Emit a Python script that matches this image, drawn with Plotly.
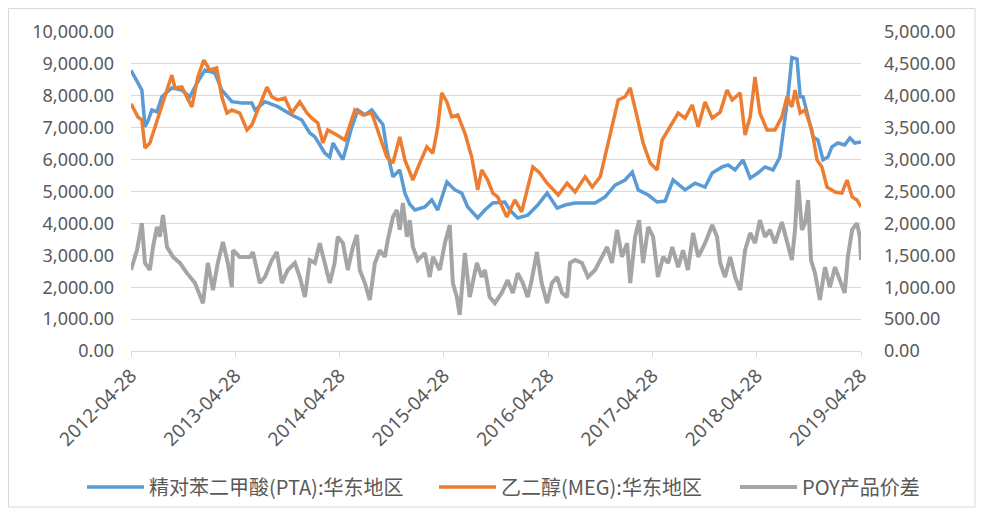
import plotly.graph_objects as go

# ---------------- data ----------------
pta_dates = ["2012-04-28","2012-05-15","2012-06-05","2012-06-16","2012-06-26","2012-07-10","2012-07-28","2012-08-14",
             "2012-09-18","2012-10-23","2012-11-20","2012-12-15","2013-01-12","2013-02-16","2013-03-12","2013-04-16",
             "2013-05-21","2013-06-25","2013-07-06","2013-08-10","2013-09-24","2013-11-12","2013-12-17","2014-01-14",
             "2014-02-01","2014-03-08","2014-03-25","2014-04-05","2014-05-10","2014-06-10","2014-07-01","2014-07-26",
             "2014-08-19","2014-09-09","2014-09-27","2014-10-11","2014-11-01","2014-11-25","2014-12-13","2014-12-30",
             "2015-01-17","2015-02-21","2015-03-17","2015-04-07","2015-05-09","2015-06-06","2015-06-30","2015-07-21",
             "2015-08-25","2015-09-19","2015-10-17","2015-11-28","2015-12-15","2016-01-12","2016-02-16","2016-03-22",
             "2016-04-24","2016-05-29","2016-06-26","2016-07-31","2016-09-04","2016-10-09","2016-11-13","2016-12-18",
             "2017-01-22","2017-02-16","2017-03-09","2017-04-13","2017-05-14","2017-06-11","2017-07-09","2017-08-20",
             "2017-09-24","2017-10-29","2017-11-23","2017-12-28","2018-01-18","2018-02-11","2018-03-11","2018-04-05",
             "2018-05-02","2018-05-27","2018-06-24","2018-07-18","2018-07-29","2018-08-15","2018-08-29","2018-09-16",
             "2018-09-27","2018-10-07","2018-10-25","2018-11-11","2018-11-28","2018-12-16","2019-01-02","2019-01-16",
             "2019-02-06","2019-03-02","2019-03-20","2019-04-06","2019-04-28"]
pta_vals = [8800,8500,8180,7030,7200,7555,7500,7970,
            8245,8180,7970,8400,8810,8715,8180,7815,
            7775,7775,7555,7815,7660,7400,7240,6835,
            6710,6200,6080,6520,6000,7020,7555,7400,
            7555,7300,7100,6300,5460,5675,4950,4600,
            4420,4515,4735,4420,5300,5050,4950,4515,
            4170,4420,4640,4670,4420,4170,4260,4575,
            4950,4480,4575,4640,4640,4640,4830,5200,
            5360,5610,5050,4890,4670,4700,5360,5050,
            5260,5140,5580,5770,5830,5675,5990,5420,
            5580,5770,5675,6080,6830,7970,9200,9150,
            7970,7970,7340,6710,6615,5990,6080,6400,
            6520,6460,6680,6520,6550]

meg_dates = ["2012-04-28","2012-05-22","2012-06-05","2012-06-16","2012-07-03","2012-07-21","2012-08-14","2012-09-18",
             "2012-09-29","2012-10-23","2012-11-27","2012-12-18","2013-01-08","2013-01-29","2013-02-22","2013-03-12",
             "2013-03-30","2013-04-16","2013-05-14","2013-06-08","2013-06-25","2013-07-17","2013-08-17","2013-09-03",
             "2013-09-24","2013-10-19","2013-11-12","2013-12-10","2014-01-04","2014-01-21","2014-02-11","2014-03-01",
             "2014-03-18","2014-04-19","2014-05-17","2014-06-21","2014-07-19","2014-08-19","2014-09-09","2014-10-11",
             "2014-11-01","2014-11-25","2014-12-13","2015-01-10","2015-02-03","2015-02-28","2015-03-21","2015-04-07",
             "2015-04-21","2015-05-09","2015-05-26","2015-06-16","2015-07-11","2015-08-04","2015-08-25","2015-09-08",
             "2015-09-29","2015-10-17","2015-11-03","2015-12-05","2016-01-02","2016-01-26","2016-03-05","2016-03-29",
             "2016-04-24","2016-06-02","2016-07-03","2016-07-31","2016-09-04","2016-09-29","2016-10-27","2016-11-20",
             "2016-12-11","2016-12-29","2017-01-22","2017-02-09","2017-03-05","2017-03-26","2017-04-20","2017-05-14",
             "2017-06-01","2017-06-22","2017-07-06","2017-07-27","2017-08-20","2017-09-14","2017-10-05","2017-10-29",
             "2017-11-23","2017-12-21","2018-01-14","2018-02-01","2018-03-01","2018-03-18","2018-04-05","2018-04-22",
             "2018-05-09","2018-06-03","2018-07-01","2018-07-25","2018-08-12","2018-08-29","2018-09-09","2018-09-27",
             "2018-10-14","2018-11-07","2018-11-25","2018-12-12","2018-12-30","2019-01-27","2019-02-20","2019-03-10",
             "2019-03-28","2019-04-14","2019-04-28"]
meg_vals = [7750,7340,7240,6365,6520,7025,7650,8650,
            8245,8275,7650,8590,9120,8810,8870,7970,
            7460,7555,7460,6930,7085,7555,8275,7970,
            7870,7930,7460,7810,7460,7300,7150,6520,
            6930,6770,6615,7555,7400,7460,6930,6080,
            5890,6710,5990,5360,5890,6400,6200,7025,
            8090,7810,7340,7400,6830,6080,5050,5675,
            5360,4950,4830,4200,4735,4360,5770,5580,
            5260,4890,5260,4985,5460,5140,5460,6400,
            7240,7870,7970,8245,7340,6520,5890,5675,
            6615,6930,7150,7460,7300,7710,7025,7810,
            7300,7490,8180,7870,8090,6770,7340,8590,
            7460,6930,6930,7340,7970,7650,8180,7460,
            7555,6930,5990,5770,5140,4985,4950,5360,
            4830,4735,4515]

poy_dates = ["2012-04-28","2012-05-19","2012-06-05","2012-06-16","2012-07-03","2012-07-14","2012-07-28","2012-08-07",
             "2012-08-18","2012-09-01","2012-09-22","2012-10-16","2012-11-10","2012-12-08","2013-01-05","2013-01-22",
             "2013-02-09","2013-02-26","2013-03-16","2013-04-02","2013-04-16","2013-04-20","2013-05-14","2013-06-18",
             "2013-06-29","2013-07-23","2013-08-10","2013-09-03","2013-09-21","2013-10-08","2013-10-29","2013-11-23",
             "2013-12-10","2013-12-28","2014-01-14","2014-02-01","2014-02-18","2014-03-08","2014-03-25","2014-04-11",
             "2014-04-22","2014-05-10","2014-05-27","2014-06-14","2014-06-28","2014-07-08","2014-07-26","2014-08-12",
             "2014-08-30","2014-09-16","2014-10-04","2014-10-14","2014-11-01","2014-11-15","2014-11-25","2014-12-06",
             "2014-12-20","2014-12-30","2015-01-10","2015-01-27","2015-02-21","2015-03-10","2015-03-21","2015-04-14",
             "2015-05-02","2015-05-19","2015-05-30","2015-06-13","2015-06-23","2015-07-11","2015-07-28","2015-08-22",
             "2015-09-08","2015-09-19","2015-10-06","2015-10-24","2015-11-17","2015-12-08","2015-12-26","2016-01-12",
             "2016-01-30","2016-02-16","2016-03-01","2016-03-19","2016-04-05","2016-04-24","2016-05-11","2016-05-29",
             "2016-06-15","2016-07-03","2016-07-13","2016-07-31","2016-08-24","2016-09-14","2016-10-09","2016-11-02",
             "2016-11-20","2016-12-07","2016-12-25","2017-01-11","2017-01-29","2017-02-09","2017-02-26","2017-03-12",
             "2017-03-26","2017-04-13","2017-04-30","2017-05-17","2017-06-04","2017-06-22","2017-07-06","2017-07-27",
             "2017-08-13","2017-08-30","2017-09-17","2017-10-05","2017-10-29","2017-11-23","2017-12-10","2017-12-21",
             "2018-01-07","2018-01-25","2018-02-11","2018-03-01","2018-03-18","2018-04-05","2018-04-22","2018-05-09",
             "2018-05-27","2018-06-13","2018-07-01","2018-07-25","2018-08-12","2018-08-29","2018-09-09","2018-09-19",
             "2018-10-03","2018-10-14","2018-10-25","2018-11-04","2018-11-18","2018-12-05","2018-12-23","2019-01-09",
             "2019-01-27","2019-02-13","2019-03-02","2019-03-13","2019-03-28","2019-04-14","2019-04-24","2019-04-28"]
poy_vals = [1270,1580,2005,1380,1270,1630,1945,1790,
            2130,1630,1475,1380,1220,1065,750,1380,
            955,1380,1710,1380,1000,1580,1475,1475,
            1550,1065,1160,1425,1550,1065,1270,1380,
            1160,845,1425,1380,1690,1380,1065,1380,
            1790,1690,1270,1630,1820,1270,1065,800,
            1380,1580,1475,1740,2100,2210,1900,2320,
            1790,2050,1630,1425,1535,1160,1475,1270,
            1690,1975,1065,845,565,1535,845,1380,
            1160,1270,845,750,910,1110,910,1220,
            1065,845,1110,1550,1065,750,1065,1160,
            910,845,1380,1425,1380,1160,1270,1475,
            1630,1380,1900,1475,1690,1065,1790,2050,
            1380,1945,1790,1160,1475,1380,1630,1315,
            1580,1270,1850,1475,1690,1975,1790,1380,
            1160,1475,1160,955,1580,1850,1690,2050,
            1790,1900,1690,2020,1740,1425,1900,2680,
            1900,2005,2365,1425,1220,800,1315,1000,
            1315,1110,910,1475,1900,2005,1790,1425]

tick_dates = ["2012-04-28","2013-04-28","2014-04-28","2015-04-28","2016-04-28","2017-04-28","2018-04-28","2019-04-28"]
tick_labels = tick_dates

names = ["精对苯二甲酸(PTA):华东地区", "乙二醇(MEG):华东地区", "POY产品价差"]
colors = ["#5B9BD5", "#ED7D31", "#A5A5A5"]

# ---------------- geometry (page pixels; page has 8px body margin) ----------------
OFF = 8
W, H = 968, 500
PL, PR, PT, PB = 131, 861, 32, 351          # plot area edges in page pixels
L = PL - OFF
T = PT - OFF
R = W - (PR - OFF)
B = H - (PB - OFF)
pw, ph = PR - PL, PB - PT

def px_x(p):
    return (p - PL) / pw

def px_y(p):
    return (PB - p) / ph

FONT = "Noto Sans, Noto Sans CJK SC, sans-serif"
LEGFONT = dict(family="Noto Sans CJK SC, Noto Sans, sans-serif", size=20, color="#595959")

fig = go.Figure()
fig.add_trace(go.Scatter(x=pta_dates, y=pta_vals, name=names[0], mode="lines", legend="legend",
                         line=dict(color=colors[0], width=3.5)))
fig.add_trace(go.Scatter(x=meg_dates, y=meg_vals, name=names[1], mode="lines", legend="legend2",
                         line=dict(color=colors[1], width=3.5)))
fig.add_trace(go.Scatter(x=poy_dates, y=poy_vals, name=names[2], mode="lines", yaxis="y2", legend="legend3",
                         line=dict(color=colors[2], width=4)))

def leg(xpage):
    return dict(orientation="h", x=px_x(xpage), xanchor="left", y=px_y(487), yanchor="middle",
                font=LEGFONT, itemwidth=57, bgcolor="rgba(0,0,0,0)")

fig.update_layout(
    width=W, height=H,
    margin=dict(l=L, r=R, t=T, b=B, autoexpand=False),
    paper_bgcolor="white", plot_bgcolor="white",
    font=dict(family=FONT, color="#595959", size=18),
    showlegend=True,
    legend=leg(82), legend2=leg(434), legend3=leg(735),
    xaxis=dict(type="date", range=["2012-04-28", "2019-04-28"],
               tickmode="array", tickvals=tick_dates, ticktext=tick_labels,
               tickangle=-45, tickfont=dict(size=19, color="#595959"),
               showgrid=False, showline=True, linecolor="#D9D9D9", linewidth=1,
               ticks="outside", ticklen=5, tickcolor="#D9D9D9", zeroline=False, automargin=False),
    yaxis=dict(range=[0, 10000], dtick=1000, tickformat=",.2f",
               showgrid=True, gridcolor="#D9D9D9", gridwidth=1,
               zeroline=False, showline=False, ticks="", automargin=False,
               ticklabelstandoff=16, tickfont=dict(size=18, color="#595959")),
    yaxis2=dict(range=[0, 5000], dtick=500, tickformat=",.2f", overlaying="y", side="right",
                showgrid=False, zeroline=False, showline=False, ticks="", automargin=False,
                ticklabelstandoff=22, tickfont=dict(size=18, color="#595959")),
    shapes=[dict(type="rect", xref="paper", yref="paper",
                 x0=px_x(OFF + 0.5), x1=px_x(OFF + W - 1), y0=px_y(OFF + H - 1), y1=px_y(OFF + 0.5),
                 line=dict(color="#D9D9D9", width=1), fillcolor="rgba(0,0,0,0)", layer="below")],
)

fig.write_html("out.html")
